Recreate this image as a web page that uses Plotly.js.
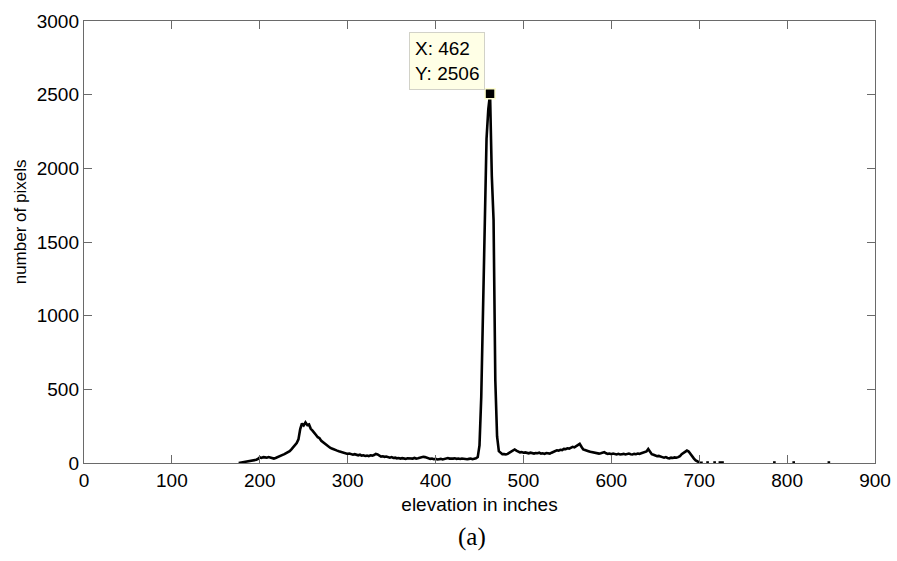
<!DOCTYPE html>
<html>
<head>
<meta charset="utf-8">
<script src="https://cdn.plot.ly/plotly-3.0.1.min.js"></script>
<style>html,body{margin:0;padding:0;background:#fff;}#chart{width:897px;height:561px;}</style>
</head>
<body>
<div id="chart"></div>
<script>
// Histogram of elevations: counts from elevation 176 in steps of 2 inches
const startElevation = 176;
const stepElevation = 2;
const pixelCounts = [
  0, 2, 3, 5, 6, 8, 10, 12, 15, 18, 22, 28,
  38, 35, 40, 38, 36, 40, 35, 32, 30, 34, 38, 42, 48, 55, 60,
  66, 72, 80, 92, 105, 118, 135, 160, 230, 268,
  255, 275, 258, 262, 232, 220, 200, 190, 175, 168,
  150, 140, 128, 118, 110, 104, 98, 92, 90, 84,
  80, 76, 72, 70, 66, 62, 64, 58, 56, 60,
  55, 52, 56, 50, 52, 48, 50, 46, 52, 50,
  54, 62, 58, 48, 44, 46, 42, 44, 38, 36,
  40, 34, 36, 32, 34, 30, 33, 30, 28, 32,
  30, 28, 30, 34, 30, 32, 36, 38, 42, 40,
  36, 30, 28, 30, 26, 28, 24, 26, 28, 24,
  26, 30, 34, 30, 28, 30, 32, 28, 30, 27,
  30, 28, 30, 26, 28, 30, 26, 28, 32, 40,
  120, 450, 1000, 1680, 2200, 2400, 2506, 1950, 1650, 560,
  180, 80, 70, 60, 60, 58, 62, 70, 80, 88,
  92, 84, 78, 72, 74, 70, 72, 68, 66, 70,
  68, 64, 68, 66, 70, 64, 66, 62, 68, 66,
  64, 70, 76, 82, 86, 84, 90, 88, 96, 94,
  100, 98, 104, 110, 106, 116, 120, 130, 110, 92,
  88, 82, 80, 76, 74, 70, 66, 68, 64, 66,
  70, 74, 66, 62, 64, 60, 64, 60, 58, 62,
  58, 60, 62, 58, 60, 64, 60, 58, 62, 60,
  64, 62, 66, 70, 72, 78, 95, 80, 60, 56,
  50, 46, 48, 42, 40, 36, 40, 34, 32, 36,
  34, 38, 36, 40, 46, 60, 70, 80, 84, 78,
  60, 45, 30, 18, 10, 4, 2, 1
];
// sparse isolated counts past 700
const tailElevation = [708, 711, null, 716, 719, null, 722, 725, 728, null, 784, 787, null, 806, 809, null, 846, 849];
const tailCounts    = [4, 4, null, 4, 4, null, 4, 4, 4, null, 4, 4, null, 4, 4, null, 4, 4];

const tipX = [462];
const tipY = [2506];
const xTicks = [0, 100, 200, 300, 400, 500, 600, 700, 800, 900];
const yTicks = [0, 500, 1000, 1500, 2000, 2500, 3000];

const traces = [
  {type: 'scatter', mode: 'lines', x0: startElevation, dx: stepElevation, y: pixelCounts,
   line: {color: '#000', width: 2.6}, hoverinfo: 'skip', showlegend: false},
  {type: 'scatter', mode: 'lines', x: tailElevation, y: tailCounts,
   line: {color: '#000', width: 2.4}, connectgaps: false, hoverinfo: 'skip', showlegend: false},
  {type: 'scatter', mode: 'markers', x: tipX, y: tipY,
   marker: {symbol: 'square', size: 10, color: '#000', line: {color: '#ffffd0', width: 1.5}},
   cliponaxis: false, hoverinfo: 'skip', showlegend: false}
];

const axisCommon = {
  showgrid: false, zeroline: false, showline: true, linecolor: '#6a6a6a', linewidth: 1.2,
  mirror: 'ticks', ticks: 'inside', tickcolor: '#6a6a6a', ticklen: 8, tickwidth: 1,
  tickfont: {family: 'Liberation Sans, Arial, sans-serif', size: 19, color: '#000'}
};

const layout = {
  width: 897, height: 561,
  margin: {l: 84, r: 22, t: 21, b: 98},
  paper_bgcolor: '#fff', plot_bgcolor: '#fff',
  xaxis: Object.assign({}, axisCommon, {
    range: [0, 900], tickmode: 'array', tickvals: xTicks, ticktext: xTicks.map(String),
    title: {text: 'elevation in inches', font: {family: 'Liberation Sans, Arial, sans-serif', size: 19, color: '#000'}, standoff: 7}
  }),
  yaxis: Object.assign({}, axisCommon, {
    range: [0, 3000], tickmode: 'array', tickvals: yTicks, ticktext: yTicks.map(String)
  }),
  annotations: [
    {xref: 'paper', yref: 'paper', x: -0.0805, y: 0.5, xanchor: 'center', yanchor: 'middle',
     text: 'number of pixels', textangle: -90, showarrow: false, yshift: 20,
     font: {family: 'Liberation Sans, Arial, sans-serif', size: 17, color: '#000'}},
    {xref: 'paper', yref: 'paper', x: 0.49, y: -0.168, xanchor: 'center', yanchor: 'middle',
     text: '(a)', showarrow: false,
     font: {family: 'Liberation Serif, Times New Roman, serif', size: 25, color: '#000'}},
    {xref: 'x', yref: 'y', x: tipX[0], y: tipY[0], xanchor: 'right', yanchor: 'bottom',
     xshift: -5, yshift: 4, showarrow: false, align: 'left',
     text: 'X: ' + tipX[0] + '<br>Y: ' + tipY[0],
     bgcolor: '#ffffe6', bordercolor: '#d2d2c8', borderwidth: 1, borderpad: 5,
     font: {family: 'Liberation Sans, Arial, sans-serif', size: 19, color: '#000'}}
  ]
};

Plotly.newPlot('chart', traces, layout, {staticPlot: true, displayModeBar: false});
</script>
</body>
</html>
